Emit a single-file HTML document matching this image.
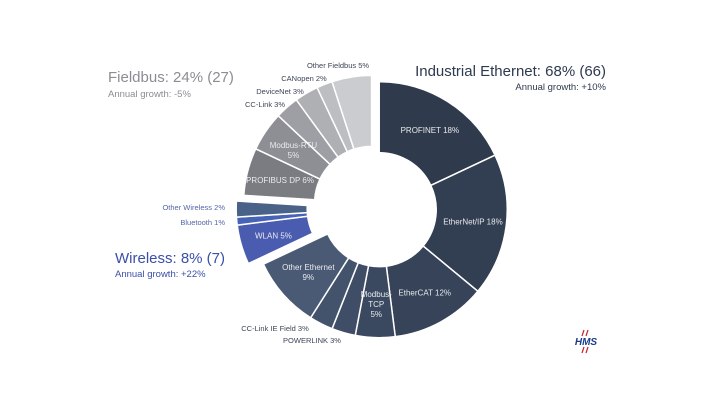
<!DOCTYPE html>
<html><head><meta charset="utf-8"><style>
body{margin:0;background:#fff;}
svg{display:block;font-family:"Liberation Sans",sans-serif;}
</style></head><body>
<svg id="chart" width="720" height="420" viewBox="0 0 720 420">
<g id="slices"></g>
<g id="labels"></g>
<g font-size="7.5" fill="#3d4556">
<text x="338" y="68" text-anchor="middle">Other Fieldbus 5%</text>
<text x="304" y="81" text-anchor="middle">CANopen 2%</text>
<text x="280" y="94" text-anchor="middle">DeviceNet 3%</text>
<text x="265" y="107" text-anchor="middle">CC-Link 3%</text>
<text x="225" y="210" text-anchor="end" fill="#5566a8">Other Wireless 2%</text>
<text x="225" y="225" text-anchor="end" fill="#5566a8">Bluetooth 1%</text>
<text x="275" y="331" text-anchor="middle">CC-Link IE Field 3%</text>
<text x="312" y="343" text-anchor="middle">POWERLINK 3%</text>
</g>
<g>
<text x="108" y="82" font-size="15" fill="#8a8d93">Fieldbus: 24% (27)</text>
<text x="108" y="97" font-size="9.5" fill="#8a8d93">Annual growth: -5%</text>
</g>
<g text-anchor="end">
<text x="606" y="76" font-size="15" fill="#2d3a4f">Industrial Ethernet: 68% (66)</text>
<text x="606" y="90" font-size="9.5" fill="#2d3a4f">Annual growth: +10%</text>
</g>
<g>
<text x="115" y="263" font-size="15" fill="#3a4fa8">Wireless: 8% (7)</text>
<text x="115" y="277" font-size="9.5" fill="#3a4fa8">Annual growth: +22%</text>
</g>
<g>
<text x="586" y="345" font-size="10" font-weight="bold" font-style="italic" fill="#1b3a8a" text-anchor="middle">HMS</text>
<line x1="584" y1="330" x2="582" y2="336" stroke="#c0282d" stroke-width="1.2"/><line x1="588" y1="330" x2="586" y2="336" stroke="#c0282d" stroke-width="1.2"/>
<line x1="584" y1="347" x2="582" y2="353" stroke="#c0282d" stroke-width="1.2"/><line x1="588" y1="347" x2="586" y2="353" stroke="#c0282d" stroke-width="1.2"/>
</g>
</svg>
<script>
const categories=["PROFINET","EtherNet/IP","EtherCAT","Modbus-TCP","POWERLINK","CC-Link IE Field","Other Ethernet","WLAN","Bluetooth","Other Wireless","PROFIBUS DP","Modbus-RTU","CC-Link","DeviceNet","CANopen","Other Fieldbus"];
const values=[18,18,12,5,3,3,9,5,1,2,6,5,3,3,2,5];
const groups=["eth","eth","eth","eth","eth","eth","eth","wl","wl","wl","fb","fb","fb","fb","fb","fb"];
const insideLabels=[["PROFINET 18%"],["EtherNet/IP 18%"],["EtherCAT 12%"],["Modbus-","TCP","5%"],null,null,["Other Ethernet","9%"],["WLAN 5%"],null,null,["PROFIBUS DP 6%"],["Modbus-RTU","5%"],null,null,null,null];
const colors=["#2f3a4c","#323e51","#364358","#3b4960","#3f4e66","#43536b","#4a5a74","#4a5cb0","#4763b5","#4a6288","#7a7c82","#8d8f95","#9d9fa4","#aeb0b4","#bcbec2","#cacccf"];
const offsets={eth:5,wl:11,fb:5};
const cx=375,cy=207,R=128,r=57;
const NS="http://www.w3.org/2000/svg";
const total=values.reduce((a,b)=>a+b,0);
const ang=v=>v/total*2*Math.PI;
const pt=(a,rad,ox,oy)=>[cx+ox+rad*Math.sin(a),cy+oy-rad*Math.cos(a)];
const gs={};let acc=0;
values.forEach((v,i)=>{const g=groups[i];if(!gs[g])gs[g]={s:acc,e:acc};gs[g].e=acc+v;acc+=v;});
const sg=document.getElementById('slices'),lg=document.getElementById('labels');
acc=0;
values.forEach((v,i)=>{
 const g=gs[groups[i]];const mid=ang((g.s+g.e)/2);
 const ox=offsets[groups[i]]*Math.sin(mid),oy=-offsets[groups[i]]*Math.cos(mid);
 const a0=ang(acc),a1=ang(acc+v);acc+=v;
 const large=(a1-a0)>Math.PI?1:0;
 const p1=pt(a0,R,ox,oy),p2=pt(a1,R,ox,oy),p3=pt(a1,r,ox,oy),p4=pt(a0,r,ox,oy);
 const p=document.createElementNS(NS,'path');
 p.setAttribute('d',`M${p1}A${R},${R} 0 ${large} 1 ${p2}L${p3}A${r},${r} 0 ${large} 0 ${p4}Z`);
 p.setAttribute('fill',colors[i]);p.setAttribute('stroke','#fff');p.setAttribute('stroke-width','1.5');
 
 
 sg.appendChild(p);
 const lines=insideLabels[i];
 if(lines){
  const am=(a0+a1)/2;const [lx,ly]=pt(am,(R+r)/2+2,ox,oy);
  const t=document.createElementNS(NS,'text');
  
  
  t.setAttribute('text-anchor','middle');t.setAttribute('font-size','8');t.setAttribute('fill','#e8eaee');
  lines.forEach((s,k)=>{const ts=document.createElementNS(NS,'tspan');ts.setAttribute('x',lx);ts.setAttribute('y',ly+3+(k-(lines.length-1)/2)*10);ts.textContent=s;t.appendChild(ts);});
  lg.appendChild(t);
 }
});
</script>
</body></html>
